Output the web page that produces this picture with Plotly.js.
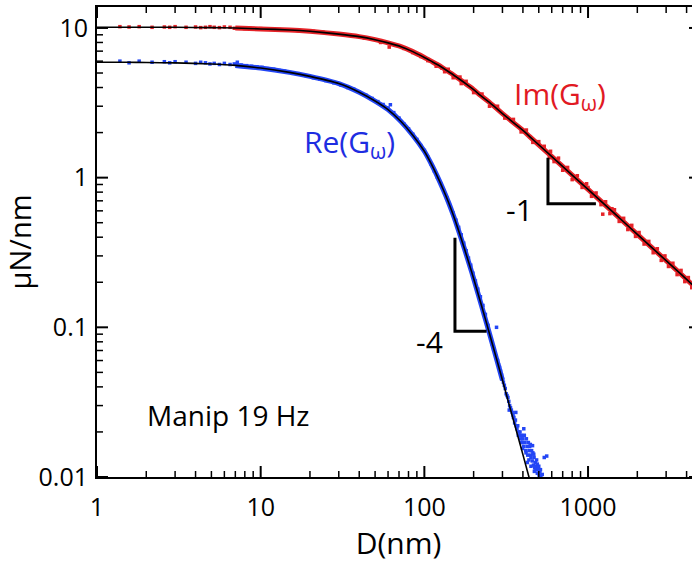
<!DOCTYPE html>
<html>
<head>
<meta charset="utf-8">
<script src="https://cdn.plot.ly/plotly-3.0.1.min.js"></script>
<style>
html, body { margin: 0; padding: 0; overflow: hidden; background: #fff; }
#chart { width: 700px; height: 563px; }
</style>
</head>
<body>
<div id="chart"></div>
<script>
// ---- Im(G_omega) measured points (D in nm, value in uN/nm) ----
const imD = [1.38,1.57,1.81,2.17,2.58,2.78,3.0,3.5,4.0,4.3,4.6,4.9,5.2,5.6,6.0,6.5,6.9,7.4,8.0,8.6,9.2,10,11,12,13,14,15.5,17,19,21,24,27,30,34,38,43,48,54,61,67,75,85,95,105,118,128,133,140,150,165,168,180,200,225,250,280,310,350,390,420,460,500,540,580,590,620,660,700,750,800,860,920,980,1000,1050,1120,1200,1230,1280,1360,1400,1450,1550,1650,1750,1850,1950,2050,2200,2350,2500,2650,2800,2950,3100,3300,3500,3700,3900,4100,4300,4450];
const imVal = [10.2,10.15,10.2,10.1,10.15,10.1,10.2,10.1,10.15,10.05,10.1,10.2,10.1,10.05,10.15,10.1,9.95,10.0,9.9,9.95,9.85,9.9,9.8,9.85,9.75,9.7,9.72,9.6,9.55,9.5,9.4,9.25,9.15,8.95,8.8,8.55,8.4,8.0,7.45,7.7,7.3,6.85,6.45,6.05,5.55,5.4,5.1,5.3,4.65,4.7,4.25,4.4,3.7,3.62,3.0,3.0,2.5,2.45,2.02,2.08,1.72,1.74,1.62,1.36,1.5,1.28,1.35,1.12,1.17,0.97,1.03,0.86,0.91,0.86,0.75,0.79,0.66,0.57,0.69,0.575,0.62,0.61,0.51,0.535,0.45,0.48,0.405,0.43,0.36,0.375,0.315,0.335,0.28,0.3,0.255,0.268,0.225,0.24,0.202,0.215,0.184,0.198];

// ---- Re(G_omega) measured points ----
const reD = [1.38,1.57,1.81,2.17,2.58,2.78,3.0,3.5,4.0,4.3,4.6,4.9,5.2,5.6,6.0,6.5,6.9,7.2,7.6,8.2,8.8,9.5,10.2,11,12,13,14,15.5,17,19,21,23,25,28,31,34,37,40,44,48,52,56,60,62,65,70,75,80,85,90,95,100,105,110,115,120,126,132,138,144,150,156,162,168,174,180,186,192,198,205,212,220,228,236,245,
  252,256,260,265,270,274,276,280,284,288,292,296,300,304,308,312,316,320,324,328,332,336,340,344,348,352,356,360,364,368,372,376,380,384,388,392,396,400,404,408,412,416,420,424,428,432,436,440,444,448,452,456,460,464,468,472,476,480,485,490,496,502,508,515,525,540,559,
  330,350,362,375,392,405,418,435,448,458,470,485,500,512,398,426,444,466,490];
const reVal = [6.0,5.85,6.0,5.9,5.95,5.85,5.95,5.9,5.8,5.9,5.85,5.75,5.8,5.7,5.8,5.7,5.75,5.9,5.65,5.6,5.55,5.5,5.45,5.35,5.3,5.2,5.15,5.0,4.95,4.8,4.65,4.55,4.45,4.3,4.15,4.0,3.9,3.72,3.55,3.38,3.22,3.08,2.92,3.07,2.72,2.5,2.28,2.12,1.95,1.8,1.64,1.52,1.37,1.23,1.11,1.01,0.91,0.81,0.73,0.65,0.58,0.52,0.465,0.415,0.365,0.325,0.29,0.26,0.23,0.204,0.18,0.16,0.14,0.122,0.103,
  0.088,0.083,0.077,0.072,0.067,0.064,0.1,0.06,0.056,0.054,0.051,0.048,0.045,0.043,0.041,0.039,0.036,0.035,0.034,0.032,0.030,0.029,0.028,0.027,0.026,0.025,0.023,0.024,0.022,0.021,0.022,0.020,0.019,0.020,0.018,0.019,0.017,0.018,0.016,0.019,0.017,0.015,0.018,0.016,0.014,0.017,0.015,0.016,0.014,0.0135,0.015,0.0128,0.0145,0.012,0.0135,0.0115,0.0125,0.0112,0.0118,0.0106,0.0112,0.0103,0.0108,0.0102,0.0104,0.0135,0.0138,
  0.028,0.025,0.027,0.019,0.017,0.021,0.0145,0.013,0.0118,0.0162,0.0109,0.013,0.0118,0.0112,0.0155,0.0125,0.0165,0.0142,0.0122];

// ---- fitted curves ----
const fitD  = [1,1.5,2,3,5,7,10,15,20,30,40,50,60,72,85,100,110,120,130,140,150,160,175,190,200,225,250,275,300,350,400,440,585,800,1000,1500,2000,3000,4470,5000];
const fitIm = [10.1,10.1,10.1,10.1,10.05,10.0,9.85,9.7,9.5,9.1,8.75,8.35,7.95,7.5,6.95,6.35,6.0,5.7,5.4,5.12,4.87,4.63,4.32,4.04,3.87,3.48,3.18,2.91,2.68,2.33,2.07,1.88,1.42,1.04,0.835,0.557,0.418,0.279,0.187,0.167];
const fitRe = [5.9,5.9,5.88,5.84,5.74,5.62,5.4,5.05,4.75,4.25,3.72,3.25,2.85,2.37,1.92,1.5,1.24,1.02,0.84,0.69,0.565,0.46,0.34,0.255,0.212,0.136,0.0907,0.0625,0.0443,0.024,0.0141,0.0096];

// ---- slope triangles ----
const tri4D = [153.8,153.8,240];
const tri4V = [0.397,0.094,0.094];
const tri1D = [569,569,1117];
const tri1V = [1.36,0.67,0.67];

// ---- tick labels ----
const xTickVals = [1,10,100,1000];
const xTickText = ['1','10','100','1000'];
const yTickVals = [0.01,0.1,1,10];
const yTickText = ['0.01','0.1','1','10'];

const RED = 'rgb(230,35,40)';
const BLUE = 'rgb(35,70,245)';
const TXT_RED = 'rgb(225,25,35)';
const TXT_BLUE = 'rgb(30,45,225)';
const FONT = 'Open Sans, Liberation Sans, sans-serif';
const X_RANGE = [0, 3.684];
const Y_RANGE = [-2, 1.14];
const PLOT_W = 603, PLOT_H = 470;

const imHaloIdx = fitD.map((d,i)=>i).filter(i => fitD[i] >= 7);
const reFitD = fitD.slice(0, fitRe.length);
const reHaloIdx = reFitD.map((d,i)=>i).filter(i => reFitD[i] >= 7 && reFitD[i] <= 300);

function minorVals(lo, hi) {
  const out = [];
  for (let e = lo; e <= hi; e++) for (let m = 2; m <= 9; m++) out.push(m * Math.pow(10, e));
  return out;
}

// inside tick marks on all four sides, built from the axis ranges (decoration, not data)
function tickSegments(xVals, yVals, lenPx) {
  const dx = lenPx * (X_RANGE[1] - X_RANGE[0]) / PLOT_W;
  const dy = lenPx * (Y_RANGE[1] - Y_RANGE[0]) / PLOT_H;
  const xs = [], ys = [];
  const inX = v => Math.log10(v) >= X_RANGE[0] - 1e-9 && Math.log10(v) <= X_RANGE[1] + 1e-9;
  const inY = v => Math.log10(v) >= Y_RANGE[0] - 1e-9 && Math.log10(v) <= Y_RANGE[1] + 1e-9;
  xVals.filter(inX).forEach(v => {
    xs.push(v, v, null, v, v, null);
    ys.push(Math.pow(10, Y_RANGE[0]), Math.pow(10, Y_RANGE[0] + dy), null,
            Math.pow(10, Y_RANGE[1]), Math.pow(10, Y_RANGE[1] - dy), null);
  });
  yVals.filter(inY).forEach(v => {
    xs.push(Math.pow(10, X_RANGE[0]), Math.pow(10, X_RANGE[0] + dx), null,
            Math.pow(10, X_RANGE[1]), Math.pow(10, X_RANGE[1] - dx), null);
    ys.push(v, v, null, v, v, null);
  });
  return {xs, ys};
}
const majorTicks = tickSegments(xTickVals, yTickVals, 11);
const minorTicks = tickSegments(minorVals(0, 3), minorVals(-2, 1), 6);

const traces = [
  {x: imHaloIdx.map(i=>fitD[i]), y: imHaloIdx.map(i=>fitIm[i]), mode:'lines', line:{color:RED, width:5, shape:'spline', smoothing:0.6}, hoverinfo:'skip', showlegend:false},
  {x: reHaloIdx.map(i=>reFitD[i]), y: reHaloIdx.map(i=>fitRe[i]), mode:'lines', line:{color:BLUE, width:5, shape:'spline', smoothing:0.6}, hoverinfo:'skip', showlegend:false},
  {x: imD, y: imVal, mode:'markers', name:'Im', marker:{symbol:'square', size:3.5, color:RED}, showlegend:false},
  {x: reD, y: reVal, mode:'markers', name:'Re', marker:{symbol:'square', size:3.5, color:BLUE}, showlegend:false},
  {x: fitD, y: fitIm, mode:'lines', name:'Im fit', line:{color:'#000', width:1.6, shape:'spline', smoothing:0.6}, showlegend:false},
  {x: reFitD, y: fitRe, mode:'lines', name:'Re fit', line:{color:'#000', width:1.6, shape:'spline', smoothing:0.6}, showlegend:false},
  {x: tri4D, y: tri4V, mode:'lines', line:{color:'#000', width:3}, showlegend:false, hoverinfo:'skip'},
  {x: tri1D, y: tri1V, mode:'lines', line:{color:'#000', width:3}, showlegend:false, hoverinfo:'skip'},
  {x: majorTicks.xs, y: majorTicks.ys, mode:'lines', line:{color:'#000', width:2}, connectgaps:false, cliponaxis:false, showlegend:false, hoverinfo:'skip'},
  {x: minorTicks.xs, y: minorTicks.ys, mode:'lines', line:{color:'#000', width:1.5}, connectgaps:false, cliponaxis:false, showlegend:false, hoverinfo:'skip'}
];

const layout = {
  width:700, height:563,
  margin:{l:97, r:0, t:7, b:86},
  paper_bgcolor:'#fff', plot_bgcolor:'#fff',
  font:{family:FONT, color:'#000'},
  showlegend:false,
  xaxis: {
    type:'log', range:X_RANGE, tickmode:'array', tickvals:xTickVals, ticktext:xTickText,
    ticks:'', ticklabelstandoff:7,
    showline:true, linecolor:'#000', linewidth:2, mirror:true,
    showgrid:false, zeroline:false,
    tickfont:{family:FONT, size:25, color:'#000'},
    title:{text:'D(nm)', font:{family:FONT, size:30, color:'#000'}, standoff:10}
  },
  yaxis: {
    type:'log', range:Y_RANGE, tickmode:'array', tickvals:yTickVals, ticktext:yTickText,
    ticks:'', ticklabelstandoff:2,
    showline:true, linecolor:'#000', linewidth:2, mirror:true,
    showgrid:false, zeroline:false,
    tickfont:{family:FONT, size:25, color:'#000'},
    title:{text:'µN/nm', font:{family:FONT, size:29, color:'#000'}, standoff:10}
  },
  annotations:[
    {x:1.252, y:0.234, xref:'x', yref:'y', text:'Re(G<sub>ω</sub>)', showarrow:false, xanchor:'left', yanchor:'middle', font:{family:FONT, size:30, color:TXT_BLUE}},
    {x:2.535, y:0.554, xref:'x', yref:'y', text:'Im(G<sub>ω</sub>)', showarrow:false, xanchor:'left', yanchor:'middle', font:{family:FONT, size:30, color:TXT_RED}},
    {x:2.034, y:-1.096, xref:'x', yref:'y', text:'-4', showarrow:false, xanchor:'center', yanchor:'middle', font:{family:FONT, size:30, color:'#000'}},
    {x:2.584, y:-0.214, xref:'x', yref:'y', text:'-1', showarrow:false, xanchor:'center', yanchor:'middle', font:{family:FONT, size:30, color:'#000'}},
    {x:0.800, y:-1.583, xref:'x', yref:'y', text:'Manip 19 Hz', showarrow:false, xanchor:'center', yanchor:'middle', font:{family:FONT, size:28, color:'#000'}}
  ]
};

Plotly.newPlot('chart', traces, layout, {displayModeBar:false});
</script>
</body>
</html>
